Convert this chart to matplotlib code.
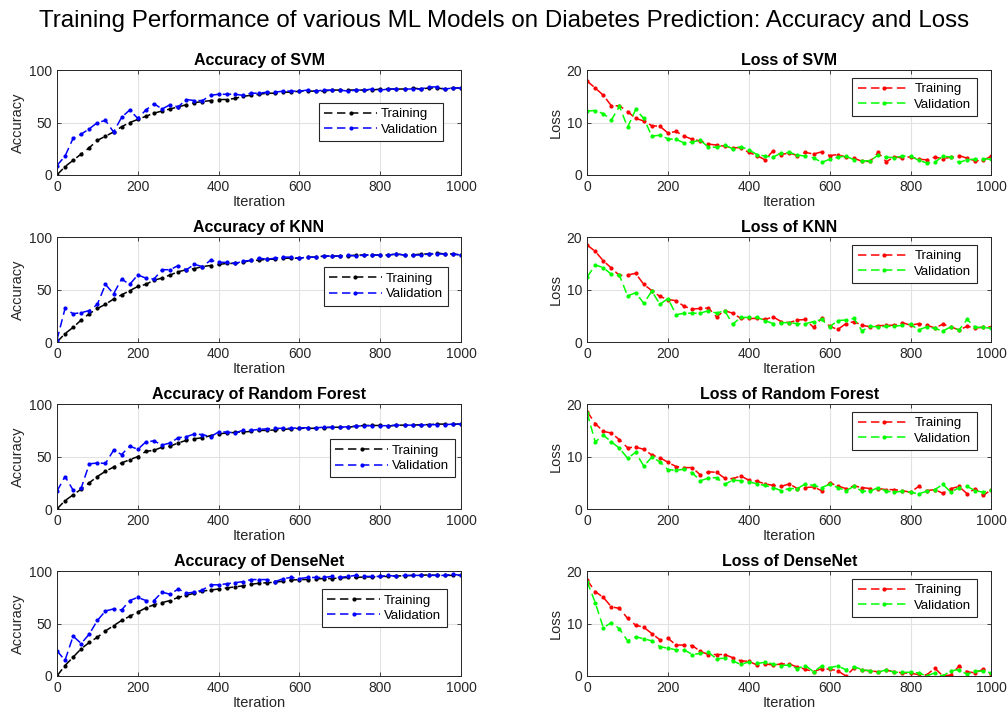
import numpy as np
import matplotlib.pyplot as plt

plt.rcParams['font.family'] = ['Liberation Sans', 'DejaVu Sans']

iterations = np.arange(0, 1001, 20)

svm_acc_train = [0, 8, 14, 20, 26, 33, 37, 41, 46, 50, 53, 56, 59, 61, 63, 65, 67, 69, 70, 71, 72,
                 72, 73, 75, 76, 77, 78, 78, 79, 79, 80, 80, 80, 80, 81, 81, 81, 81, 81, 81, 82,
                 82, 82, 82, 83, 82, 83, 83, 82, 83, 83]
svm_acc_val = [9, 18, 35, 39, 44, 50, 52, 41, 55, 62, 54, 62, 68, 63, 67, 65, 72, 71, 71, 76, 77,
               77, 77, 76, 78, 78, 79, 79, 80, 80, 80, 81, 80, 81, 81, 81, 80, 81, 81, 82, 81,
               82, 82, 82, 82, 82, 84, 84, 82, 83, 83]
svm_loss_train = [17.9, 16.6, 15.2, 13.2, 13.2, 12.1, 10.8, 10.3, 9.4, 9.3, 8.0, 8.3, 7.4, 6.8, 6.5,
                  5.9, 5.7, 5.5, 5.2, 5.2, 4.3, 3.7, 2.9, 4.6, 3.9, 4.2, 3.7, 4.3, 4.0, 4.4, 3.7,
                  3.9, 3.4, 3.2, 2.6, 2.6, 4.3, 2.5, 3.5, 3.2, 3.5, 3.0, 2.9, 3.4, 3.1, 3.4, 3.7,
                  3.2, 2.7, 2.8, 3.6]
svm_loss_val = [12.2, 12.3, 11.7, 10.5, 13.1, 9.1, 12.5, 10.8, 7.4, 7.6, 6.9, 6.8, 6.1, 6.3, 6.6,
                5.3, 5.3, 5.7, 5.0, 5.4, 4.8, 3.9, 3.6, 3.4, 4.2, 4.3, 3.8, 3.6, 3.3, 2.4, 3.0,
                3.4, 3.6, 2.9, 2.7, 2.7, 3.8, 3.4, 3.3, 3.6, 3.6, 2.8, 2.3, 2.4, 3.6, 3.4, 2.4,
                2.9, 3.0, 3.1, 3.0]

knn_acc_train = [0, 8, 14, 21, 27, 32, 36, 41, 45, 49, 53, 55, 59, 61, 64, 67, 69, 70, 72, 73, 74,
                 75, 75, 76, 78, 78, 79, 79, 80, 80, 80, 81, 81, 82, 82, 82, 82, 83, 83, 83, 83,
                 83, 84, 83, 83, 84, 84, 85, 84, 84, 83]
knn_acc_val = [2, 32, 27, 28, 30, 36, 55, 46, 60, 55, 64, 61, 60, 69, 69, 73, 69, 74, 72, 78, 76,
               76, 75, 77, 78, 80, 79, 80, 81, 81, 80, 81, 81, 82, 82, 82, 83, 82, 83, 83, 83,
               83, 84, 83, 83, 83, 84, 84, 84, 84, 83]
knn_loss_train = [18.5, 17.3, 15.5, 14.1, 12.7, 12.8, 13.1, 11.0, 9.8, 8.7, 8.1, 7.9, 6.8, 6.3, 6.4,
                  6.5, 4.8, 6.0, 5.5, 4.5, 4.5, 4.5, 4.3, 4.8, 3.9, 3.7, 4.2, 4.3, 2.8, 4.5, 3.0,
                  2.4, 3.5, 3.9, 3.2, 2.9, 3.1, 3.2, 3.2, 3.7, 3.2, 3.5, 3.2, 2.7, 3.4, 2.9, 2.3,
                  3.0, 2.7, 2.8, 2.9]
knn_loss_val = [12.4, 14.7, 14.2, 12.9, 12.7, 8.8, 9.4, 7.4, 9.7, 7.2, 8.3, 5.2, 5.5, 5.5, 5.5,
                6.0, 5.5, 6.0, 3.4, 4.7, 4.7, 4.7, 4.1, 3.5, 3.7, 3.7, 3.5, 3.5, 3.9, 4.3, 2.9,
                4.1, 4.2, 4.5, 2.1, 3.0, 2.9, 3.0, 3.0, 3.2, 3.4, 2.3, 2.9, 2.6, 2.1, 2.9, 2.3,
                4.3, 2.8, 2.8, 2.6]

rf_acc_train = [0, 8, 13.5, 19, 25, 31, 36, 40, 44, 47, 50, 55, 56, 59, 60, 63, 65.5, 67, 68, 70,
                71.6, 72.6, 73, 73.5, 74, 75, 75, 75.5, 76, 76.5, 77, 77, 77, 77.4, 78, 78, 78,
                79, 79.7, 79.7, 79.7, 79, 80, 80, 80, 80.5, 80.5, 81, 81, 81, 81]
rf_acc_val = [17, 31, 18, 20, 43, 44, 43.5, 56, 52, 60, 57, 64, 65, 61, 63, 68, 69, 71.6, 71, 69,
              73.5, 73.5, 72.6, 75, 75, 76, 76.5, 77, 77, 77, 77.5, 77.5, 77.5, 78, 78, 78, 78.5,
              79, 79.5, 79.5, 79.5, 79.5, 80, 80, 80, 80, 80.5, 80.5, 80.5, 81, 81]
rf_loss_train = [18.6, 16.3, 14.8, 14.5, 13.2, 11.7, 11.8, 11.4, 10.3, 9.8, 8.9, 8.1, 7.9, 7.9, 6.5,
                 7.1, 7.0, 5.9, 5.8, 6.3, 5.5, 5.3, 4.8, 4.5, 4.3, 4.8, 3.9, 4.1, 4.2, 3.5, 5.0,
                 4.4, 3.9, 4.4, 4.1, 3.9, 3.9, 3.7, 3.7, 3.5, 3.2, 4.3, 3.5, 3.7, 3.0, 3.9, 4.3,
                 2.9, 3.9, 2.6, 3.7]
rf_loss_val = [18.3, 12.8, 14.1, 12.8, 11.6, 9.7, 10.8, 8.2, 9.9, 9.0, 7.5, 7.4, 7.6, 6.9, 5.4,
               5.9, 6.0, 4.7, 5.5, 5.4, 5.2, 4.8, 4.5, 4.1, 3.5, 3.9, 3.9, 4.8, 4.5, 4.1, 4.7,
               4.1, 3.5, 4.3, 3.4, 3.4, 4.1, 3.4, 3.2, 3.4, 3.2, 2.9, 3.4, 3.7, 4.7, 3.2, 4.1,
               4.3, 3.5, 3.2, 3.7]

dn_acc_train = [0, 10, 18, 26, 32, 37, 43, 48, 53, 57, 61, 65, 68, 70, 72, 75, 77, 79, 81, 82, 83,
                84, 85, 86, 87.5, 88.5, 89, 89.5, 90.5, 91.5, 92, 92, 92.5, 93, 93, 93.5, 94, 94,
                94.5, 94.5, 95, 95, 95.5, 95.5, 96, 96, 96.5, 96, 96, 96, 96]
dn_acc_val = [24, 15, 38, 31, 40, 53, 62, 64, 63, 72, 75, 72, 72, 80, 78, 83, 79, 80, 82, 87, 87,
              88, 89, 90, 92, 92, 92, 90, 93, 94, 93, 94, 94, 94, 95, 94, 95, 96, 95, 95, 95,
              96, 95, 96, 96, 96, 96, 96, 96, 97, 96]
dn_loss_train = [18.3, 16.1, 15.0, 13.2, 12.9, 11.0, 9.7, 9.3, 8.1, 6.9, 7.2, 5.9, 5.9, 5.8, 4.7,
                 4.1, 4.1, 4.1, 3.5, 2.9, 2.8, 2.1, 2.3, 2.1, 2.3, 2.3, 1.7, 1.3, 0.8, 1.4, 1.3,
                 1.0, 0.0, 1.5, 1.1, 1.0, 0.8, 1.1, 0.8, 0.6, 0.5, 0.3, 0.2, 1.5, 0.0, 0.2, 1.9,
                 0.8, 0.6, 1.3, 0.3]
dn_loss_val = [18.0, 14.0, 9.2, 10.2, 9.0, 6.7, 7.5, 7.1, 6.7, 5.6, 5.3, 5.0, 5.0, 4.1, 4.3, 4.5,
               3.3, 3.4, 2.9, 2.2, 2.7, 2.4, 2.6, 2.3, 2.0, 2.1, 1.4, 2.0, 0.8, 1.9, 1.6, 1.9,
               1.2, 1.8, 1.2, 1.0, 0.7, 1.2, 0.7, 0.7, 0.7, 0.6, 0.0, 0.6, 0.0, 1.0, 1.2, 0.3,
               1.0, 0.9, 0.6]

models = ['SVM', 'KNN', 'Random Forest', 'DenseNet']
acc_data = [(svm_acc_train, svm_acc_val), (knn_acc_train, knn_acc_val),
            (rf_acc_train, rf_acc_val), (dn_acc_train, dn_acc_val)]
loss_data = [(svm_loss_train, svm_loss_val), (knn_loss_train, knn_loss_val),
             (rf_loss_train, rf_loss_val), (dn_loss_train, dn_loss_val)]

# legend upper-left corner in axes coords, per row
acc_legend_pos = [(0.648, 0.69), (0.660, 0.714), (0.676, 0.667), (0.656, 0.83)]
loss_legend_pos = [(0.656, 0.927)] * 4

ink = '#262626'


def draw_panel(ax, train, val, colors, title, ylabel, ymax, yticks, leg_pos):
    style = dict(linestyle='--', dashes=(5.5, 3), marker='.', markersize=4, linewidth=1.1)
    ax.plot(iterations, train, color=colors[0], label='Training', **style)
    ax.plot(iterations, val, color=colors[1], label='Validation', **style)
    ax.set_xlim(0, 1000)
    ax.set_ylim(0, ymax)
    ax.set_xticks(range(0, 1001, 200))
    ax.set_yticks(yticks)
    ax.grid(True, color='#e2e2e2', linewidth=0.8)
    ax.set_axisbelow(True)
    ax.tick_params(direction='in', length=3, top=True, right=True, labelsize=10,
                   colors=ink, width=0.6)
    for s in ax.spines.values():
        s.set_color(ink)
        s.set_linewidth(0.7)
    ax.set_title(title, fontsize=11.5, fontweight='bold', pad=4)
    ax.set_xlabel('Iteration', fontsize=10.5, color=ink, labelpad=1)
    ax.set_ylabel(ylabel, fontsize=10.5, color=ink, labelpad=3)
    leg = ax.legend(loc='upper left', bbox_to_anchor=leg_pos, borderaxespad=0,
                    fontsize=9.5, handlelength=4.0, fancybox=False, framealpha=1,
                    edgecolor=ink, borderpad=0.4, labelspacing=0.25, handletextpad=0.3)
    leg.get_frame().set_linewidth(0.8)


fig = plt.figure(figsize=(10.08, 7.13), dpi=100)
bottoms = [0.7546, 0.5203, 0.2861, 0.0519]
for i, name in enumerate(models):
    ax_acc = fig.add_axes([0.0565, bottoms[i], 0.401, 0.147])
    draw_panel(ax_acc, acc_data[i][0], acc_data[i][1], ('black', 'blue'),
               'Accuracy of ' + name, 'Accuracy', 100, [0, 50, 100], acc_legend_pos[i])
    ax_loss = fig.add_axes([0.5825, bottoms[i], 0.401, 0.147])
    draw_panel(ax_loss, loss_data[i][0], loss_data[i][1], ('red', 'lime'),
               'Loss of ' + name, 'Loss', 20, [0, 10, 20], loss_legend_pos[i])

fig.suptitle('Training Performance of various ML Models on Diabetes Prediction: Accuracy and Loss',
             fontsize=17.4, y=0.971, va='center')
fig.savefig('out.png', dpi=100)
